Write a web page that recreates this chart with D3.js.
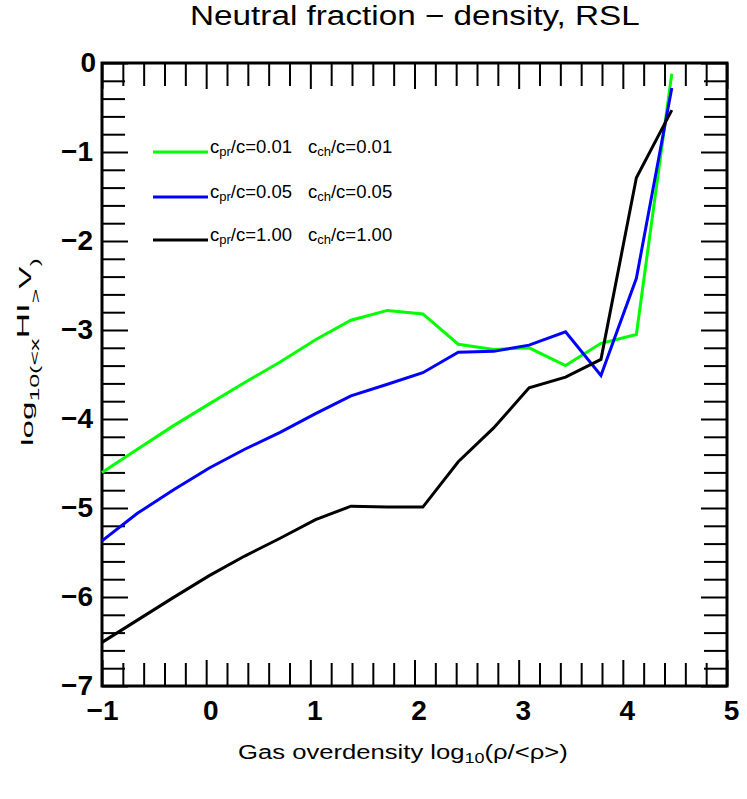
<!DOCTYPE html>
<html>
<head>
<meta charset="utf-8">
<script src="https://cdn.jsdelivr.net/npm/d3@7"></script>
<style>
  body { margin: 0; background: #fff; }
  svg { display: block; font-family: "Liberation Sans", Arial, Helvetica, sans-serif; }
</style>
</head>
<body>
<div id="chart"></div>
<script>
// --- data ---
const xVals = [-1.00, -0.66, -0.32, 0.03, 0.37, 0.71, 1.05, 1.39, 1.74, 2.08, 2.42, 2.76, 3.10, 3.45, 3.79, 4.13, 4.47];
const green = [-4.60, -4.34, -4.08, -3.83, -3.59, -3.36, -3.11, -2.89, -2.78, -2.82, -3.16, -3.22, -3.20, -3.40, -3.15, -3.05, -0.12];
const blue  = [-5.37, -5.06, -4.80, -4.55, -4.34, -4.15, -3.94, -3.74, -3.61, -3.48, -3.25, -3.24, -3.17, -3.02, -3.51, -2.42, -0.28];
const black = [-6.51, -6.26, -6.01, -5.76, -5.54, -5.34, -5.13, -4.98, -4.99, -4.99, -4.48, -4.10, -3.65, -3.53, -3.33, -1.29, -0.53];

const seriesNames = ["0.01", "0.05", "1.00"];
const seriesColors = ["#00ff00", "#0000ff", "#000000"];
const seriesData = [green, blue, black];

const xMajor = [-1, 0, 1, 2, 3, 4, 5];
const yMajor = [-7, -6, -5, -4, -3, -2, -1, 0];

// --- layout ---
const W = 747, H = 799;
const margin = { top: 63, right: 20, bottom: 113, left: 102 };
const plotW = W - margin.left - margin.right;
const plotH = H - margin.top - margin.bottom;

const svg = d3.select("#chart").append("svg")
  .attr("width", W)
  .attr("height", H);

const g = svg.append("g").attr("transform", `translate(${margin.left},${margin.top})`);

const x = d3.scaleLinear().domain([-1, 5]).range([0, plotW]);
const y = d3.scaleLinear().domain([-7, 0]).range([plotH, 0]);

// minor ticks every 0.2
const xMinor = d3.range(-1, 5.001, 0.2).filter(v => Math.abs(v - Math.round(v)) > 1e-6);
const yMinor = d3.range(-7, 0.001, 0.2).filter(v => Math.abs(v - Math.round(v)) > 1e-6);

function styleAxis(sel) {
  sel.select(".domain").remove();
  sel.selectAll(".tick line").attr("stroke", "#000").attr("stroke-width", 2);
}
function styleLabels(sel) {
  sel.selectAll("text").attr("font-size", 28).attr("font-weight", "bold")
    .attr("font-family", "Liberation Sans, Arial, sans-serif").attr("fill", "#000");
}

const majorLen = 26, minorLen = 23;

// bottom
g.append("g").attr("transform", `translate(0,${plotH})`)
  .call(d3.axisBottom(x).tickValues(xMinor).tickSize(-minorLen).tickFormat(""))
  .call(styleAxis);
g.append("g").attr("transform", `translate(0,${plotH})`)
  .call(d3.axisBottom(x).tickValues(xMajor).tickSize(-majorLen).tickPadding(14).tickFormat(d3.format("d")))
  .call(styleAxis)
  .call(styleLabels)
  .call(a => a.selectAll("text").attr("dx", d => d >= 0 ? 4 : 0));
// top
g.append("g")
  .call(d3.axisTop(x).tickValues(xMinor).tickSize(-minorLen).tickFormat(""))
  .call(styleAxis);
g.append("g")
  .call(d3.axisTop(x).tickValues(xMajor).tickSize(-majorLen).tickFormat(""))
  .call(styleAxis);
// left
g.append("g")
  .call(d3.axisLeft(y).tickValues(yMinor).tickSize(-minorLen).tickFormat(""))
  .call(styleAxis);
g.append("g")
  .call(d3.axisLeft(y).tickValues(yMajor).tickSize(-majorLen).tickPadding(9).tickFormat(d3.format("d")))
  .call(styleAxis)
  .call(styleLabels)
  .call(a => a.selectAll("text").attr("dx", d => d >= 0 ? 3 : 0));
// right
g.append("g").attr("transform", `translate(${plotW},0)`)
  .call(d3.axisRight(y).tickValues(yMinor).tickSize(-minorLen).tickFormat(""))
  .call(styleAxis);
g.append("g").attr("transform", `translate(${plotW},0)`)
  .call(d3.axisRight(y).tickValues(yMajor).tickSize(-majorLen).tickFormat(""))
  .call(styleAxis);

// frame
g.append("rect")
  .attr("width", plotW).attr("height", plotH)
  .attr("fill", "none").attr("stroke", "#000").attr("stroke-width", 3);

// lines
const line = d3.line().x((d, i) => x(xVals[i])).y(d => y(d));
seriesData.forEach((s, k) => {
  g.append("path")
    .datum(s)
    .attr("d", line)
    .attr("fill", "none")
    .attr("stroke", seriesColors[k])
    .attr("stroke-width", 3)
    .attr("stroke-linejoin", "miter");
});

// legend
const legY = [152, 197, 240];
seriesNames.forEach((nm, k) => {
  svg.append("line")
    .attr("x1", 153).attr("x2", 208)
    .attr("y1", legY[k]).attr("y2", legY[k])
    .attr("stroke", seriesColors[k]).attr("stroke-width", 3);
  const t1 = svg.append("text").attr("x", 210).attr("y", legY[k] + 1).attr("font-size", 18.5);
  t1.append("tspan").text("c");
  t1.append("tspan").attr("font-size", 13).attr("dy", 3).text("pr");
  t1.append("tspan").attr("dy", -3).text("/c=" + nm);
  const t2 = svg.append("text").attr("x", 308).attr("y", legY[k] + 1).attr("font-size", 18.5);
  t2.append("tspan").text("c");
  t2.append("tspan").attr("font-size", 13).attr("dy", 3).text("ch");
  t2.append("tspan").attr("dy", -3).text("/c=" + nm);
});

// the original lettering is stretched along the baseline; fit to measured width
function stretch(t, tx, ty, width, rot) {
  const w = t.node().getBBox().width || width;
  const s = width / w;
  t.attr("transform", `translate(${tx},${ty})` + (rot ? ` rotate(${rot})` : "") + ` scale(${s},1)`);
}

// title
const title = svg.append("text").attr("font-size", 28)
  .text("Neutral fraction \u2212 density, RSL");
stretch(title, 190, 25, 450, 0);

// x label
const xl = svg.append("text").attr("font-size", 20);
xl.append("tspan").text("Gas overdensity log");
xl.append("tspan").attr("font-size", 14).attr("dy", 4).text("10");
xl.append("tspan").attr("dy", -4).text("(\u03c1/<\u03c1>)");
stretch(xl, 238, 759, 330, 0);

// y label
const yl = svg.append("text").attr("font-size", 16);
yl.append("tspan").text("log");
yl.append("tspan").attr("font-size", 12).attr("dy", 6).text("10(<x");
yl.append("tspan").attr("font-size", 17).attr("dy", -10).text("HI");
yl.append("tspan").attr("font-size", 12).attr("dy", 11).text(">");
yl.append("tspan").attr("font-size", 16).attr("dy", -9).text("V");
yl.append("tspan").attr("font-size", 12).attr("dy", 8).text(")");
stretch(yl, 33, 446, 188, -90);
</script>
</body>
</html>
